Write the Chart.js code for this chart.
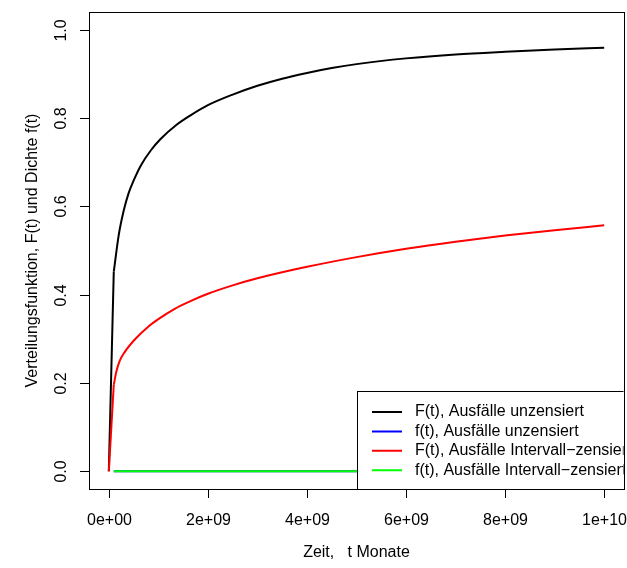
<!DOCTYPE html>
<html>
<head>
<meta charset="utf-8">
<script src="https://cdn.jsdelivr.net/npm/chart.js@4/dist/chart.umd.min.js"></script>
<style>
  html, body { margin: 0; padding: 0; background: #fff; }
  canvas { display: block; }
</style>
</head>
<body>
<canvas id="verteilung" width="627" height="568"></canvas>
<script>
  // Zeitpunkte und Werte
  const zeitUnzensiert = [0, 1e8, 2e8, 3e8, 4e8, 5e8, 6.5e8, 8.5e8, 1.05e9, 1.35e9, 1.65e9, 2e9,
    2.5e9, 3e9, 3.5e9, 4e9, 4.5e9, 5e9, 6e9, 7e9, 8e9, 9e9, 1e10];
  const FUnzensiert = [0, 0.452, 0.535, 0.59, 0.63, 0.658, 0.693, 0.727, 0.753, 0.783, 0.806, 0.829,
    0.853, 0.873, 0.889, 0.902, 0.913, 0.922, 0.935, 0.944, 0.95, 0.955, 0.959];

  const zeitIntervall = [0, 1e8, 1.5e8, 2.2e8, 3.2e8, 5.2e8, 7.9e8, 1.06e9, 1.33e9, 1.66e9, 2e9,
    2.5e9, 3e9, 4e9, 5e9, 6e9, 7e9, 8e9, 9e9, 1e10];
  const FIntervall = [0, 0.196, 0.225, 0.25, 0.27, 0.298, 0.327, 0.349, 0.368, 0.386, 0.402,
    0.421, 0.437, 0.463, 0.485, 0.504, 0.52, 0.534, 0.546, 0.557];

  // Dichten liegen praktisch auf 0
  const zeitDichte = [1e8, 1e10];
  const fUnzensiert = [0, 0];
  const fIntervall = [0, 0];

  const xTicks = [0, 2e9, 4e9, 6e9, 8e9, 1e10];
  const xTickLabels = ["0e+00", "2e+09", "4e+09", "6e+09", "8e+09", "1e+10"];
  const yTicks = [0, 0.2, 0.4, 0.6, 0.8, 1.0];
  const yTickLabels = ["0.0", "0.2", "0.4", "0.6", "0.8", "1.0"];

  const legendeTexte = [
    "F(t), Ausfälle unzensiert",
    "f(t), Ausfälle unzensiert",
    "F(t), Ausfälle Intervall\u2212zensiert",
    "f(t), Ausfälle Intervall\u2212zensiert",
  ];
  const farben = ["#000000", "#0000ff", "#ff0000", "#00ff00"];

  const schrift = '16px "Liberation Sans", Arial, Helvetica, sans-serif';

  function punkte(xs, ys) {
    return xs.map((x, i) => ({ x: x, y: ys[i] }));
  }

  // Anstieg bis zum ersten Stützpunkt ist gerade, danach glatte Kurve
  function kurve(xs, ys, farbe, order) {
    return [
      { data: punkte(xs.slice(0, 2), ys.slice(0, 2)), borderColor: farbe, order: order, tension: 0 },
      { data: punkte(xs.slice(1), ys.slice(1)), borderColor: farbe, order: order, cubicInterpolationMode: "monotone" },
    ];
  }

  // Achsen, Rahmen und Legende im Stil von R-Basisgrafik
  const rGrafik = {
    id: "rGrafik",
    afterDraw(chart) {
      const { ctx, chartArea: a } = chart;
      const x = chart.scales.x;
      const y = chart.scales.y;
      ctx.save();
      ctx.strokeStyle = "#000";
      ctx.fillStyle = "#000";
      ctx.lineWidth = 1;
      ctx.font = schrift;

      ctx.strokeRect(Math.round(a.left) + 0.5, Math.round(a.top) + 0.5,
        Math.round(a.right - a.left), Math.round(a.bottom - a.top));

      // x-Achse
      ctx.textAlign = "center";
      ctx.textBaseline = "middle";
      xTicks.forEach((v, i) => {
        const px = Math.round(x.getPixelForValue(v)) + 0.5;
        ctx.beginPath();
        ctx.moveTo(px, a.bottom);
        ctx.lineTo(px, a.bottom + 9);
        ctx.stroke();
        ctx.fillText(xTickLabels[i], px, 521);
      });
      ctx.fillText("Zeit,   t Monate", (a.left + a.right) / 2, 553);

      // y-Achse, Beschriftung gedreht
      yTicks.forEach((v, i) => {
        const py = Math.round(y.getPixelForValue(v)) + 0.5;
        ctx.beginPath();
        ctx.moveTo(a.left, py);
        ctx.lineTo(a.left - 9, py);
        ctx.stroke();
        ctx.save();
        ctx.translate(62, py);
        ctx.rotate(-Math.PI / 2);
        ctx.fillText(yTickLabels[i], 0, 0);
        ctx.restore();
      });
      ctx.save();
      ctx.translate(33, (a.top + a.bottom) / 2);
      ctx.rotate(-Math.PI / 2);
      ctx.fillText("Verteilungsfunktion, F(t) und Dichte f(t)", 0, 0);
      ctx.restore();

      // Legende unten rechts, ragt über den Rand hinaus
      ctx.save();
      ctx.beginPath();
      ctx.rect(0, 0, a.right - 0.5, 568);
      ctx.clip();
      const lx = 357.5, ly = 391.5;
      ctx.fillStyle = "#fff";
      ctx.fillRect(lx, ly, 400, a.bottom - ly);
      ctx.strokeRect(lx, ly, 400, Math.round(a.bottom) - ly + 0.5);
      ctx.textAlign = "left";
      legendeTexte.forEach((t, i) => {
        const ry = 412 + i * 19.4;
        ctx.strokeStyle = farben[i];
        ctx.lineWidth = 2;
        ctx.beginPath();
        ctx.moveTo(372, ry);
        ctx.lineTo(402, ry);
        ctx.stroke();
        ctx.fillStyle = "#000";
        ctx.fillText(t, 415, ry);
      });
      ctx.restore();

      ctx.restore();
    },
  };

  const chart = new Chart(document.getElementById("verteilung").getContext("2d"), {
    type: "line",
    data: {
      datasets: [
        ...kurve(zeitUnzensiert, FUnzensiert, farben[0], 4),
        { data: punkte(zeitDichte, fUnzensiert), borderColor: farben[1], order: 3 },
        ...kurve(zeitIntervall, FIntervall, farben[2], 2),
        { data: punkte(zeitDichte, fIntervall), borderColor: farben[3], order: 1 },
      ],
    },
    options: {
      responsive: false,
      animation: false,
      layout: { padding: { left: 89, top: 12, right: 3, bottom: 79 } },
      elements: {
        point: { radius: 0 },
        line: { borderWidth: 2, fill: false },
      },
      plugins: {
        legend: { display: false },
        tooltip: { enabled: false },
      },
      scales: {
        x: { type: "linear", display: false, min: -4e8, max: 1.04e10 },
        y: { type: "linear", display: false, min: -0.04, max: 1.04 },
      },
    },
    plugins: [rGrafik],
  });
</script>
</body>
</html>
